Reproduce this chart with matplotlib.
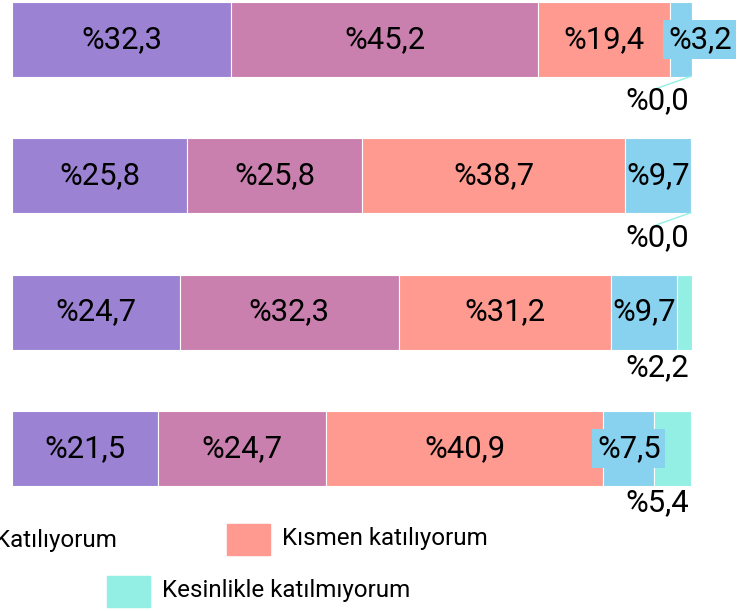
import matplotlib
matplotlib.use("Agg")
import matplotlib.pyplot as plt
from matplotlib.patches import Rectangle

series = ["Kesinlikle katılıyorum", "Katılıyorum", "Kısmen katılıyorum",
          "Katılmıyorum", "Kesinlikle katılmıyorum"]
colors = ["#9b82d3", "#c980ae", "#fe9a90", "#88d2f0", "#93efe4"]

strongly_agree = [32.3, 25.8, 24.7, 21.5]
agree = [45.2, 25.8, 32.3, 24.7]
partly = [19.4, 38.7, 31.2, 40.9]
disagree = [3.2, 9.7, 9.7, 7.5]
strongly_disagree = [0.0, 0.0, 2.2, 5.4]

values = [strongly_agree, agree, partly, disagree, strongly_disagree]

plt.rcParams["font.family"] = ["Roboto", "DejaVu Sans"]

W, H = 740, 611
fig = plt.figure(figsize=(W / 100, H / 100), dpi=100)
ax = fig.add_axes([0, 0, 1, 1])

# x: 0% at px 12, 100% at px 691 ; y: rows 136.3 px apart, first centred at px 39.5
pxx = 6.79
row = 136.3
ax.set_xlim(-12 / pxx, (W - 12) / pxx)
ax.set_ylim((H - 39.5) / row, -39.5 / row)
ax.axis("off")

ys = range(len(strongly_agree))
bar_h = 75 / row
# outside labels for the last segment sit a bit lower on the upper rows
below = [0.445, 0.452, 0.407, 0.40]
lefts = [0.0] * len(strongly_agree)
for k, (vals, col) in enumerate(zip(values, colors)):
    ax.barh(ys, vals, left=lefts, height=bar_h, color=col,
            edgecolor="white", linewidth=0.8)
    for i, v in enumerate(vals):
        label = "%" + f"{v:.1f}".replace(".", ",")
        cx = lefts[i] + v / 2
        if k < 4:
            box = None
            if v < 9:
                box = dict(boxstyle="square,pad=0.15", fc=col, ec="none")
                if v < 5:
                    cx = 101.3
            ax.text(cx, i, label, ha="center", va="center", fontsize=22.3,
                    color="black", bbox=box)
        else:
            ax.text(95, i + below[i], label, ha="center", va="center",
                    fontsize=22.3, color="black")
            if v == 0:
                ax.plot([100, 94.9], [i + 0.27, i + 0.36], color=col, lw=1)
    lefts = [l + v for l, v in zip(lefts, vals)]

# legend, laid out in figure pixels
def legend_item(x, y, name, col, right=None):
    fig.patches.append(Rectangle((x / W, 1 - (y + 15.5) / H), 43 / W, 31 / H,
                                 transform=fig.transFigure, color=col))
    if right is None:
        fig.text((x + 55) / W, 1 - y / H, name, ha="left", va="center",
                 fontsize=17.4)
    else:
        fig.text(right / W, 1 - y / H, name, ha="right", va="center",
                 fontsize=17.4)

legend_item(-200, 541, series[1], colors[1], right=117)
legend_item(227, 539, series[2], colors[2])
legend_item(107, 591, series[4], colors[4])

fig.savefig("out.png", dpi=100)
